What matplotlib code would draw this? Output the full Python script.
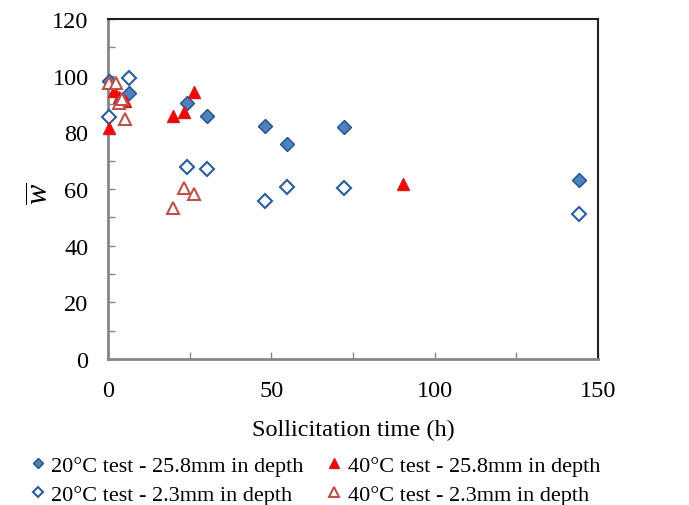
import matplotlib
matplotlib.use("Agg")
import matplotlib.pyplot as plt
from matplotlib.ticker import MultipleLocator

plt.rcParams['font.family'] = ['Liberation Serif', 'DejaVu Serif']
plt.rcParams['mathtext.fontset'] = 'custom'
plt.rcParams['mathtext.it'] = 'Liberation Serif:italic'
plt.rcParams['mathtext.rm'] = 'Liberation Serif'

# 20°C test - 25.8mm in depth
t20_deep = [0.4, 6.5, 24.3, 30.4, 48.1, 54.7, 72.1, 144.3]
w20_deep = [98.1, 93.8, 90.4, 85.9, 82.1, 75.9, 81.8, 63.3]
# 20°C test - 2.3mm in depth
t20_surf = [0.4, 6.5, 24.3, 30.4, 48.1, 54.7, 72.1, 144.3]
w20_surf = [85.3, 99.1, 67.9, 67.1, 55.7, 60.7, 60.2, 51.1]
# 40°C test - 25.8mm in depth
t40_deep = [0.4, 1.8, 3.5, 5.1, 20.0, 23.3, 26.2, 90.4]
w40_deep = [81.4, 94.7, 92.6, 90.9, 85.7, 87.3, 94.1, 61.8]
# 40°C test - 2.3mm in depth
t40_surf = [0.4, 2.4, 3.5, 4.3, 5.1, 19.8, 23.3, 26.3]
w40_surf = [97.4, 97.3, 90.4, 91.6, 84.8, 53.2, 60.4, 58.2]

labels = ["20°C test - 25.8mm in depth", "20°C test - 2.3mm in depth",
          "40°C test - 25.8mm in depth", "40°C test - 2.3mm in depth"]

fig = plt.figure(figsize=(6.89, 5.06), dpi=100)
ax = fig.add_axes([108/689, 1-360/506, (598-108)/689, (360-20)/506])

ms = 7
kw = dict(ls='none', clip_on=False, zorder=3)
ax.plot(t20_deep, w20_deep, marker='D', ms=ms, mfc='#4F81BD', mec='#1F4E8C', mew=1.0, label=labels[0], **kw)
ax.plot(t20_surf, w20_surf, marker='D', ms=ms, mfc='white', mec='#2A5C9E', mew=1.5, label=labels[1], **kw)
ax.plot(t40_deep, w40_deep, marker='^', ms=ms+2, mfc='#FF0000', mec='#D02020', mew=1.0, label=labels[2], **kw)
ax.plot(t40_surf, w40_surf, marker='^', ms=ms+2, mfc='white', mec='#C0504D', mew=1.5, label=labels[3], **kw)

ax.set_xlim(0, 150)
ax.set_ylim(0, 120)
ax.xaxis.set_major_locator(MultipleLocator(50))
ax.xaxis.set_minor_locator(MultipleLocator(25))
ax.yaxis.set_major_locator(MultipleLocator(20))
ax.yaxis.set_minor_locator(MultipleLocator(10))

for side in ['left', 'bottom']:
    ax.spines[side].set_color('#868686')
    ax.spines[side].set_linewidth(2.0)
for side in ['top', 'right']:
    ax.spines[side].set_color('#202020')
    ax.spines[side].set_linewidth(1.5)

ax.tick_params(which='both', direction='in', length=5, width=1.0, color='#868686',
               labelsize=17.5, pad=14)
ax.tick_params(axis='x', which='both', pad=15)

ax.set_xlabel("Sollicitation time (h)", fontsize=17.5, labelpad=13)
ax.set_ylabel(r"$\overline{w}$", fontsize=22)
ax.yaxis.set_label_coords(-52/490, 0.49)

fig.legend(loc='lower left', bbox_to_anchor=(22/689, -0.018), ncol=2, frameon=False,
           fontsize=16, handlelength=0.6, handletextpad=0.3, columnspacing=1.1,
           labelspacing=0.4, borderaxespad=0.0, markerscale=0.75)

fig.savefig("out.png", dpi=100)
